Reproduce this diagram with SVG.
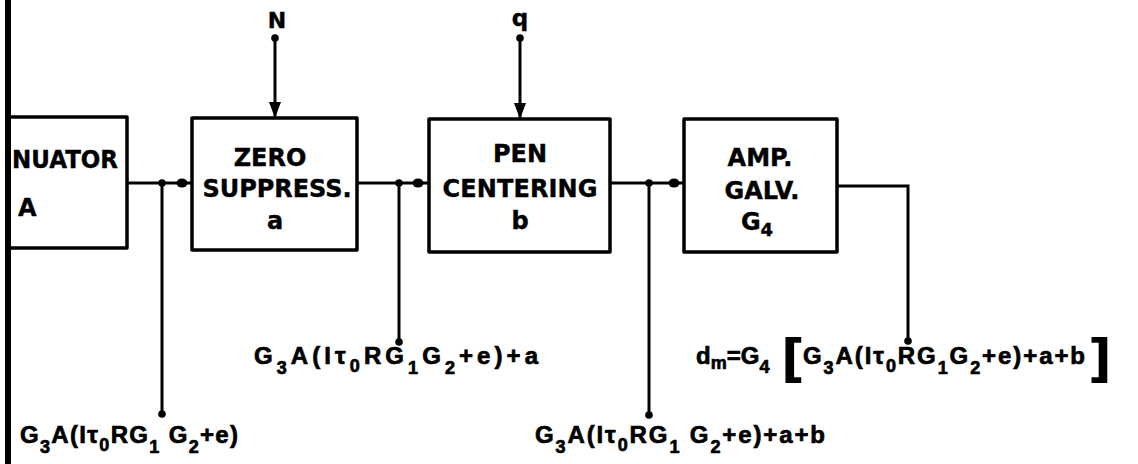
<svg xmlns="http://www.w3.org/2000/svg" width="1138" height="464" viewBox="0 0 1138 464">
<defs>
<style>
.box{fill:none;stroke:#000;stroke-width:3.5;stroke-linejoin:round}
.ln{fill:none;stroke:#000;stroke-width:3}
.lbl{font-family:"DejaVu Sans","Liberation Sans",sans-serif;font-weight:bold;font-size:24px;fill:#000;stroke:#000;stroke-width:0.4;text-anchor:middle}
.eq{font-family:"Liberation Sans",Arial,sans-serif;font-weight:bold;font-size:24px;fill:#000;stroke:#000;stroke-width:0.7}
.sub{font-size:18px}
.brk{font-family:"DejaVu Sans","Liberation Sans",sans-serif;font-weight:bold;font-size:52px;fill:#000}
.dot{fill:#000}
</style>
<marker id="tri" markerUnits="userSpaceOnUse" markerWidth="18" markerHeight="14" refX="16" refY="6" orient="auto"><path d="M0,0 L16,6 L0,12 Z" fill="#000"/></marker>
<marker id="end" markerUnits="userSpaceOnUse" markerWidth="10" markerHeight="10" refX="5" refY="5"><circle cx="5" cy="5" r="3.8" fill="#000"/></marker>
</defs>
<rect x="5" y="0" width="6" height="464" fill="#000"/>
<g id="attenuator">
<path class="box" d="M8 117 H127 V248 H8"/>
<text class="lbl" x="12" y="168" style="text-anchor:start" textLength="106" lengthAdjust="spacingAndGlyphs">NUATOR</text>
<text class="lbl" x="18" y="216" style="text-anchor:start">A</text>
</g>
<g id="zero-suppress">
<rect class="box" x="192" y="118" width="165" height="132"/>
<text class="lbl" x="270" y="166">ZERO</text>
<text class="lbl" x="277" y="197" textLength="149" lengthAdjust="spacing">SUPPRESS.</text>
<text class="lbl" x="275" y="229">a</text>
</g>
<g id="pen-centering">
<rect class="box" x="429" y="119" width="181" height="133"/>
<text class="lbl" x="520" y="162">PEN</text>
<text class="lbl" x="520" y="197" textLength="155" lengthAdjust="spacing">CENTERING</text>
<text class="lbl" x="520" y="229">b</text>
</g>
<g id="amp-galv">
<rect class="box" x="684" y="119" width="153" height="133"/>
<text class="lbl" x="760" y="166">AMP.</text>
<text class="lbl" x="762" y="199">GALV.</text>
<text class="lbl" x="757" y="230">G<tspan style="font-size:18px" dy="6">4</tspan></text>
</g>
<g id="inputs">
<text class="lbl" x="277" y="28" style="font-size:22px">N</text>
<text class="lbl" x="520" y="26" style="font-size:23px">q</text>
</g>
<g id="connectors">
<path class="ln" d="M275 38 V118" marker-start="url(#end)" marker-end="url(#tri)"/>
<path class="ln" d="M520 38 V119" marker-start="url(#end)" marker-end="url(#tri)"/>
<path class="ln" d="M127 183 H192"/>
<path class="ln" d="M357 183 H429"/>
<path class="ln" d="M610 183 H684"/>
<path class="ln" d="M837 186 H908 V341" marker-end="url(#end)"/>
<path class="ln" d="M162 183 V414" marker-end="url(#end)"/>
<path class="ln" d="M399 183 V342" marker-end="url(#end)"/>
<path class="ln" d="M649 183 V415" marker-end="url(#end)"/>
<circle class="dot" cx="162" cy="183" r="3.8"/>
<circle class="dot" cx="399" cy="183" r="3.8"/>
<circle class="dot" cx="649" cy="183" r="3.8"/>
<ellipse class="dot" cx="182" cy="183" rx="5.5" ry="4.5"/>
<ellipse class="dot" cx="418" cy="183" rx="5.5" ry="4.5"/>
<ellipse class="dot" cx="674" cy="183" rx="5.5" ry="4.5"/>
</g>
<g id="equations">
<text class="eq" x="20" y="443" textLength="218" lengthAdjust="spacing">G<tspan class="sub" dy="10">3</tspan><tspan dy="-10">A(Iτ</tspan><tspan class="sub" dy="8">0</tspan><tspan dy="-8">RG</tspan><tspan class="sub" dy="10">1</tspan><tspan dy="-10"> G</tspan><tspan class="sub" dy="10">2</tspan><tspan dy="-10">+e)</tspan></text>
<text class="eq" x="254" y="364" textLength="284" lengthAdjust="spacing">G<tspan class="sub" dy="10">3</tspan><tspan dy="-10">A(Iτ</tspan><tspan class="sub" dy="8">0</tspan><tspan dy="-8">RG</tspan><tspan class="sub" dy="10">1</tspan><tspan dy="-10">G</tspan><tspan class="sub" dy="10">2</tspan><tspan dy="-10">+e)+a</tspan></text>
<text class="eq" x="535" y="443" textLength="290" lengthAdjust="spacing">G<tspan class="sub" dy="10">3</tspan><tspan dy="-10">A(Iτ</tspan><tspan class="sub" dy="8">0</tspan><tspan dy="-8">RG</tspan><tspan class="sub" dy="10">1</tspan><tspan dy="-10"> G</tspan><tspan class="sub" dy="10">2</tspan><tspan dy="-10">+e)+a+b</tspan></text>
<text class="eq" x="696" y="364">d<tspan class="sub" dy="5">m</tspan><tspan dy="-5">=G</tspan><tspan class="sub" dy="9">4</tspan></text>
<text class="brk" x="781" y="376">[</text>
<text class="eq" x="803" y="364" textLength="282" lengthAdjust="spacing">G<tspan class="sub" dy="10">3</tspan><tspan dy="-10">A(Iτ</tspan><tspan class="sub" dy="8">0</tspan><tspan dy="-8">RG</tspan><tspan class="sub" dy="10">1</tspan><tspan dy="-10">G</tspan><tspan class="sub" dy="10">2</tspan><tspan dy="-10">+e)+a+b</tspan></text>
<text class="brk" x="1088" y="376">]</text>
</g>
</svg>
